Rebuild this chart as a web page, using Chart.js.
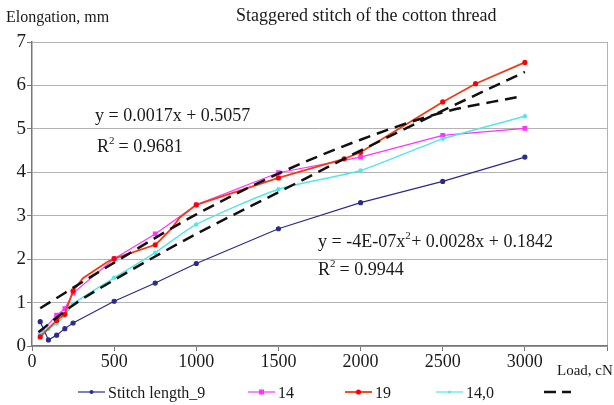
<!DOCTYPE html>
<html>
<head>
<meta charset="utf-8">
<script src="https://cdn.jsdelivr.net/npm/chart.js@4"></script>
<style>
  html, body { margin: 0; padding: 0; background: #fff; }
  #wrap { width: 614px; height: 405px; position: relative; }
</style>
</head>
<body>
<div id="wrap"><canvas id="myChart" width="614" height="405"></canvas></div>
<script>
// loads (cN) and elongations (mm)
const load9 = [50, 100, 150, 200, 250, 500, 750, 1000, 1500, 2000, 2500, 3000];
const elong9 = [0.56, 0.14, 0.25, 0.40, 0.53, 1.03, 1.45, 1.90, 2.70, 3.30, 3.79, 4.35];

const load14 = [50, 150, 200, 250, 500, 750, 1000, 1500, 2000, 2500, 3000];
const elong14 = [0.29, 0.71, 0.86, 1.22, 2.01, 2.58, 3.25, 3.99, 4.35, 4.85, 5.01];

const load19 = [50, 150, 200, 250, 310, 460, 500, 750, 780, 850, 900, 1000, 1500, 1900, 2000, 2500, 2700, 3000];
const elong19 = [0.21, 0.59, 0.73, 1.27, 1.56, 1.94, 2.01, 2.33, 2.44, 2.71, 2.96, 3.25, 3.87, 4.31, 4.46, 5.62, 6.04, 6.53];
const noMarker19 = [310, 460, 780, 850, 900]; // bends of the line without a marker

const load140 = [50, 100, 150, 200, 250, 500, 750, 1000, 1500, 2000, 2500, 3000];
const elong140 = [0.28, 0.40, 0.52, 0.70, 0.97, 1.57, 2.15, 2.80, 3.61, 4.04, 4.77, 5.29];

// trend lines
const trendALoad = [50, 500, 1000, 1500, 2000, 2500, 2950];
const trendAElong = [0.87, 1.92, 3.03, 3.97, 4.75, 5.38, 5.73];
const trendBLoad = [40, 250, 500, 1000, 1500, 2000, 2500, 3000];
const trendBElong = [0.32, 0.94, 1.52, 2.58, 3.54, 4.50, 5.42, 6.31];

const xTicks = [0, 500, 1000, 1500, 2000, 2500, 3000];
const yTicks = [0, 1, 2, 3, 4, 5, 6, 7];

const seriesNames = ["Stitch length_9", "14", "19", "14,0", ""];

const pts = (xs, ys) => xs.map((x, i) => ({ x: x, y: ys[i] }));

const serif = "'Liberation Serif', 'DejaVu Serif', serif";

const legendItems = [
  { x: 78, color: "#2b2b8c", marker: "circle", r: 2 },
  { x: 248, color: "#ff33ff", marker: "rect", r: 2.5 },
  { x: 345, color: "#f03c14", marker: "circle", r: 2.6, mc: "#ff0000" },
  { x: 436, color: "#55e6e6", marker: "circle", r: 1.5 },
  { x: 544, color: "#111", dash: true },
];

const overlay = {
  id: "overlay",
  afterDraw(chart) {
    const c = chart.ctx;
    c.save();
    c.fillStyle = "#1a1a1a";
    c.textBaseline = "middle";
    c.textAlign = "left";
    c.font = "18px " + serif;
    c.fillText("Staggered stitch of the cotton thread", 236, 16);
    c.font = "16px " + serif;
    c.fillText("Elongation, mm", 6, 18);
    c.font = "15px " + serif;
    c.fillText("Load, cN", 557, 371);

    c.font = "18px " + serif;
    c.fillText("y = 0.0017x + 0.5057", 95, 116);
    c.fillText("R", 97, 147);
    let w = c.measureText("R").width;
    c.font = "11px " + serif;
    c.fillText("2", 97 + w, 141);
    c.font = "18px " + serif;
    c.fillText(" = 0.9681", 97 + w + 5, 147);

    c.fillText("y = -4E-07x", 318, 242);
    w = c.measureText("y = -4E-07x").width;
    c.font = "11px " + serif;
    c.fillText("2", 318 + w, 236);
    c.font = "18px " + serif;
    c.fillText("+ 0.0028x + 0.1842", 318 + w + 6, 242);
    c.fillText("R", 318, 270);
    w = c.measureText("R").width;
    c.font = "11px " + serif;
    c.fillText("2", 318 + w, 264);
    c.font = "18px " + serif;
    c.fillText(" = 0.9944", 318 + w + 5, 270);

    // legend
    const ly = 392;
    c.font = "16px " + serif;
    legendItems.forEach((it, i) => {
      c.strokeStyle = it.color;
      if (it.dash) {
        c.lineWidth = 2.5;
        c.setLineDash([12, 6]);
      } else {
        c.lineWidth = i === 2 ? 1.8 : 1.2;
        c.setLineDash([]);
      }
      c.beginPath();
      c.moveTo(it.x, ly);
      c.lineTo(it.x + 27, ly);
      c.stroke();
      c.setLineDash([]);
      if (it.marker) {
        c.fillStyle = it.mc || it.color;
        c.beginPath();
        if (it.marker === "rect") c.rect(it.x + 13.5 - it.r, ly - it.r, it.r * 2, it.r * 2);
        else c.arc(it.x + 13.5, ly, it.r, 0, Math.PI * 2);
        c.fill();
      }
      c.fillStyle = "#1a1a1a";
      c.fillText(seriesNames[i], it.x + 30, ly + 2);
    });
    c.restore();
  },
};

const ctx = document.getElementById("myChart");
const myChart = new Chart(ctx, {
  type: "line",
  data: {
    datasets: [
      {
        label: seriesNames[0],
        data: pts(load9, elong9),
        borderColor: "#2b2b8c",
        backgroundColor: "#2b2b8c",
        borderWidth: 1.2,
        pointRadius: 2,
        order: 4,
      },
      {
        label: seriesNames[1],
        data: pts(load14, elong14),
        borderColor: "#ff33ff",
        backgroundColor: "#ff33ff",
        borderWidth: 1.2,
        pointStyle: "rect",
        pointRadius: 2.5,
        order: 3,
      },
      {
        label: seriesNames[3],
        data: pts(load140, elong140),
        borderColor: "#55e6e6",
        backgroundColor: "#55e6e6",
        borderWidth: 1.5,
        pointRadius: 1.5,
        tension: 0.2,
        order: 2,
      },
      {
        label: seriesNames[2],
        data: pts(load19, elong19),
        borderColor: "#f03c14",
        backgroundColor: "#ff0000",
        borderWidth: 1.8,
        pointRadius: (c) => (noMarker19.includes(load19[c.dataIndex]) ? 0 : 2.6),
        pointBorderWidth: 0,
        order: 1,
      },
      {
        label: "trend A",
        data: pts(trendALoad, trendAElong),
        borderColor: "#111",
        borderWidth: 2.5,
        borderDash: [12, 7],
        pointRadius: 0,
        cubicInterpolationMode: "monotone",
        order: 0,
      },
      {
        label: "trend B",
        data: pts(trendBLoad, trendBElong),
        borderColor: "#111",
        borderWidth: 2.5,
        borderDash: [12, 7],
        pointRadius: 0,
        cubicInterpolationMode: "monotone",
        order: 0,
      },
    ],
  },
  options: {
    responsive: false,
    animation: false,
    layout: { padding: { top: 42, right: 7, left: 0, bottom: 0 } },
    plugins: {
      legend: { display: false },
      title: { display: false },
      tooltip: { enabled: false },
    },
    scales: {
      x: {
        type: "linear",
        min: 0,
        max: 3500,
        afterBuildTicks: (s) => {
          s.ticks = xTicks.concat([3500]).map((v) => ({ value: v }));
        },
        afterFit: (s) => {
          s.height = 59;
        },
        ticks: {
          callback: (v) => (xTicks.includes(v) ? String(v) : ""),
          color: "#1a1a1a",
          font: { family: serif, size: 18 },
          padding: 0,
          maxRotation: 0,
        },
        grid: {
          color: (c) => (c.tick && c.tick.value === 3500 ? "#b3b3b3" : "rgba(0,0,0,0)"),
          tickColor: "#777",
          tickLength: 5,
        },
        border: { color: "#777", width: 1.5 },
      },
      y: {
        min: 0,
        max: 7,
        afterBuildTicks: (s) => {
          s.ticks = yTicks.map((v) => ({ value: v }));
        },
        afterFit: (s) => {
          s.width = 32;
        },
        ticks: {
          color: "#1a1a1a",
          font: { family: serif, size: 19 },
          padding: 1,
        },
        grid: {
          color: "#b3b3b3",
          tickColor: "#777",
          tickLength: 5,
        },
        border: { color: "#777", width: 1.5 },
      },
    },
  },
  plugins: [overlay],
});
</script>
</body>
</html>
